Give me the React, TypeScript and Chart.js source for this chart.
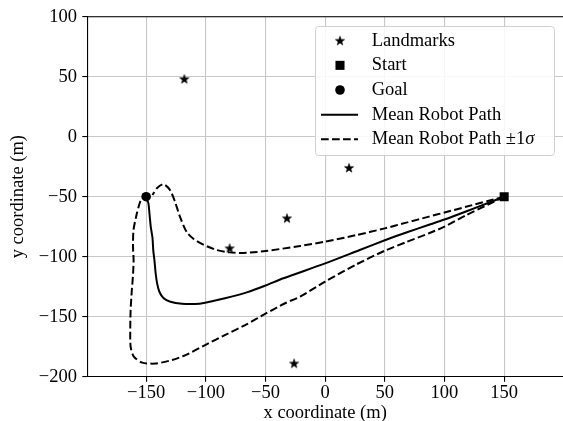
import React, { useEffect, useRef } from "react";
import { Chart, registerables } from "chart.js";

Chart.register(...registerables);

// ---------- data ----------
const landmarkX = [-118, 20, -32, -80, -26];
const landmarkY = [48, -26, -68, -93, -189];

const startX = [150];
const startY = [-50];

const goalX = [-150];
const goalY = [-50];

const meanX = [150, 137, 118, 100, 87, 68, 50, 29, 0, -35, -50, -65, -84, -100.6, -109, -120, -129.7, -135.3, -138.9, -140.8, -142, -143, -144, -144.7, -146.1, -147.2, -148.1, -150];
const meanY = [-50, -55, -62.3, -69, -73.4, -79.8, -86.3, -94.4, -105.6, -118, -124, -129.5, -134.7, -138.3, -139.4, -139.2, -137.5, -134.7, -129.2, -122.2, -114, -103.5, -95, -84, -75.3, -64, -55.6, -50];

const upperX = [150, 137, 118, 100, 87, 68, 50, 26, 0, -21, -50, -63, -69, -80, -91, -102, -110.4, -116, -121.6, -125.8, -130, -135.5, -141, -144.7];
const upperY = [-50, -53.4, -58.4, -63.2, -66.6, -71.6, -76.4, -82, -87.5, -91.1, -95.3, -96.6, -96.9, -96.4, -94.4, -90, -85.1, -79.5, -66.9, -54.2, -44.4, -39.6, -43, -48.6];

const lowerX = [150, 137, 118, 100, 87, 68, 50, 26, 0, -21, -34, -50, -67, -84, -100.6, -117, -128.3, -142, -153.3, -160.3, -163, -163.3, -163, -162, -161.1, -160.5, -161, -160.6, -157.8, -155, -153];
const lowerY = [-50, -56.3, -65.5, -75, -80.5, -87.8, -95, -106.5, -120.8, -133.3, -139, -147.5, -157, -165.3, -173.6, -182, -186.1, -189, -188.3, -183.3, -175, -160, -144.4, -128, -116.7, -103, -92, -78, -64, -54.2, -51];

const xTicks = [-150, -100, -50, 0, 50, 100, 150];
const yTicks = [-200, -150, -100, -50, 0, 50, 100];

const seriesLabels = ["Landmarks", "Start", "Goal", "Mean Robot Path", "Mean Robot Path \u00b11\u03c3"];
const xTitle = "x coordinate (m)";
const yTitle = "y coordinate (m)";

// ---------- helpers ----------
const FONT = "'Liberation Serif', 'Times New Roman', serif";

function pts(xs: number[], ys: number[]) {
  return xs.map((x, i) => ({ x, y: ys[i] }));
}

function fmt(v: number) {
  return v < 0 ? "\u2212" + Math.abs(v) : String(v);
}

function makeStar(R: number) {
  const size = Math.ceil(R * 2 + 2);
  const c = document.createElement("canvas");
  c.width = size;
  c.height = size;
  const g = c.getContext("2d")!;
  const cx = size / 2;
  const cy = size / 2 + 0.3;
  const r = R * 0.4;
  g.beginPath();
  for (let k = 0; k < 10; k++) {
    const a = -Math.PI / 2 + (k * Math.PI) / 5;
    const rad = k % 2 === 0 ? R : r;
    const px = cx + rad * Math.cos(a);
    const py = cy + rad * Math.sin(a);
    if (k === 0) g.moveTo(px, py);
    else g.lineTo(px, py);
  }
  g.closePath();
  g.fillStyle = "#000";
  g.fill();
  g.strokeStyle = "#000";
  g.lineWidth = 0.6;
  g.stroke();
  return c;
}

function drawMarker(ctx: CanvasRenderingContext2D, ds: any, x: number, y: number) {
  const style = ds.pointStyle;
  ctx.fillStyle = "#000";
  if (style instanceof HTMLCanvasElement) {
    ctx.drawImage(style, x - style.width / 2, y - style.height / 2);
  } else if (style === "rect") {
    const s = Math.SQRT1_2 * ds.pointRadius;
    ctx.fillRect(x - s, y - s, 2 * s, 2 * s);
  } else {
    ctx.beginPath();
    ctx.arc(x, y, ds.pointRadius, 0, Math.PI * 2);
    ctx.fill();
  }
}

const frameAndLegend = {
  id: "frameAndLegend",
  afterDatasetsDraw(chart: any) {
    const { ctx, chartArea } = chart;
    ctx.save();
    ctx.strokeStyle = "#000";
    ctx.lineWidth = 1.1;
    ctx.beginPath();
    ctx.moveTo(chartArea.left, chartArea.top);
    ctx.lineTo(chartArea.right, chartArea.top);
    ctx.stroke();
    ctx.restore();
  },
  afterDraw(chart: any) {
    const { ctx } = chart;
    const seen = new Set<string>();
    const items: any[] = [];
    chart.data.datasets.forEach((ds: any) => {
      if (!seen.has(ds.label)) {
        seen.add(ds.label);
        items.push(ds);
      }
    });
    const bx = 315, by = 26, bw = 239, bh = 129;
    ctx.save();
    ctx.beginPath();
    ctx.roundRect(bx + 0.5, by + 0.5, bw, bh, 3);
    ctx.fillStyle = "rgba(255,255,255,0.85)";
    ctx.fill();
    ctx.strokeStyle = "#d0d0d0";
    ctx.lineWidth = 1;
    ctx.stroke();

    const rowH = 24.65;
    const y0 = 40.7;
    const mx = 340;
    const tx = 371.7;
    items.forEach((ds, i) => {
      const y = y0 + i * rowH;
      if (ds.showLine) {
        ctx.save();
        ctx.strokeStyle = "#000";
        ctx.lineWidth = ds.borderWidth;
        ctx.setLineDash(ds.borderDash || []);
        ctx.beginPath();
        ctx.moveTo(321, y);
        ctx.lineTo(358, y);
        ctx.stroke();
        ctx.restore();
      } else {
        drawMarker(ctx, ds, mx, y);
      }
      ctx.fillStyle = "#000";
      ctx.textBaseline = "middle";
      ctx.textAlign = "left";
      let label: string = ds.label;
      let tail = "";
      if (label.endsWith("\u03c3")) {
        tail = "\u03c3";
        label = label.slice(0, -1);
      }
      ctx.font = `18.5px ${FONT}`;
      ctx.fillText(label, tx, y);
      if (tail) {
        const w = ctx.measureText(label).width;
        ctx.font = `italic 18.5px ${FONT}`;
        ctx.fillText(tail, tx + w, y);
      }
    });
    ctx.restore();
  },
};

export default function App() {
  const ref = useRef<HTMLCanvasElement | null>(null);

  useEffect(() => {
    if (!ref.current) return;
    const star = makeStar(4.8);
    const dash = [7.7, 3.3];
    const chart = new Chart(ref.current, {
      type: "scatter",
      data: {
        datasets: [
          {
            label: seriesLabels[0],
            data: pts(landmarkX, landmarkY),
            pointStyle: star as any,
            pointRadius: 5,
            backgroundColor: "#000",
            borderColor: "#000",
            showLine: false,
          },
          {
            label: seriesLabels[1],
            data: pts(startX, startY),
            pointStyle: "rect",
            pointRadius: 6.4,
            backgroundColor: "#000",
            borderColor: "#000",
            borderWidth: 0,
            showLine: false,
          },
          {
            label: seriesLabels[2],
            data: pts(goalX, goalY),
            pointStyle: "circle",
            pointRadius: 4.8,
            backgroundColor: "#000",
            borderColor: "#000",
            borderWidth: 0,
            showLine: false,
          },
          {
            label: seriesLabels[3],
            data: pts(meanX, meanY),
            showLine: true,
            pointRadius: 0,
            borderColor: "#000",
            borderWidth: 2,
            tension: 0.25,
          },
          {
            label: seriesLabels[4],
            data: pts(upperX, upperY),
            showLine: true,
            pointRadius: 0,
            borderColor: "#000",
            borderWidth: 2,
            borderDash: dash,
            tension: 0.25,
          },
          {
            label: seriesLabels[4],
            data: pts(lowerX, lowerY),
            showLine: true,
            pointRadius: 0,
            borderColor: "#000",
            borderWidth: 2,
            borderDash: dash,
            tension: 0.25,
          },
        ] as any,
      },
      options: {
        responsive: false,
        animation: false,
        events: [],
        layout: { autoPadding: false, padding: { top: 16.7, left: 0, right: 0, bottom: 0 } },
        plugins: {
          legend: { display: false },
          tooltip: { enabled: false },
        },
        scales: {
          x: {
            type: "linear",
            min: -199.3,
            max: 199.3,
            afterBuildTicks: (s: any) => {
              s.ticks = xTicks.map((v) => ({ value: v }));
            },
            afterFit: (s: any) => {
              s.height = 44.3;
            },
            grid: { color: "#c8c8c8", lineWidth: 1.1, tickColor: "#000", tickLength: 5, tickWidth: 1.1 },
            border: { color: "#000", width: 1.1 },
            ticks: {
              padding: 0.5,
              color: "#000",
              autoSkip: false,
              maxRotation: 0,
              font: { family: FONT, size: 18.5, lineHeight: 1.2 },
              callback: (v: any) => fmt(Number(v)),
            },
            title: {
              display: true,
              text: xTitle,
              color: "#000",
              font: { family: FONT, size: 18.5, lineHeight: 1 },
              padding: { top: 0, bottom: -1.5 },
            },
          },
          y: {
            type: "linear",
            min: -200,
            max: 100,
            afterBuildTicks: (s: any) => {
              s.ticks = yTicks.map((v) => ({ value: v }));
            },
            afterFit: (s: any) => {
              s.width = 87.3;
            },
            grid: { color: "#c8c8c8", lineWidth: 1.1, tickColor: "#000", tickLength: 5, tickWidth: 1.1 },
            border: { color: "#000", width: 1.1 },
            ticks: {
              padding: 5.3,
              color: "#000",
              autoSkip: false,
              font: { family: FONT, size: 18.5, lineHeight: 1.2 },
              callback: (v: any) => fmt(Number(v)),
            },
            title: {
              display: true,
              text: yTitle,
              color: "#000",
              font: { family: FONT, size: 18.5, lineHeight: 1 },
              padding: { top: 9, bottom: 0 },
            },
          },
        },
      } as any,
      plugins: [frameAndLegend],
    });
    return () => chart.destroy();
  }, []);

  return (
    <div style={{ position: "absolute", left: 0, top: 0, width: 563, height: 421, overflow: "hidden", background: "#fff" }}>
      <canvas ref={ref} width={563} height={421} style={{ display: "block", width: 563, height: 421 }} />
    </div>
  );
}
